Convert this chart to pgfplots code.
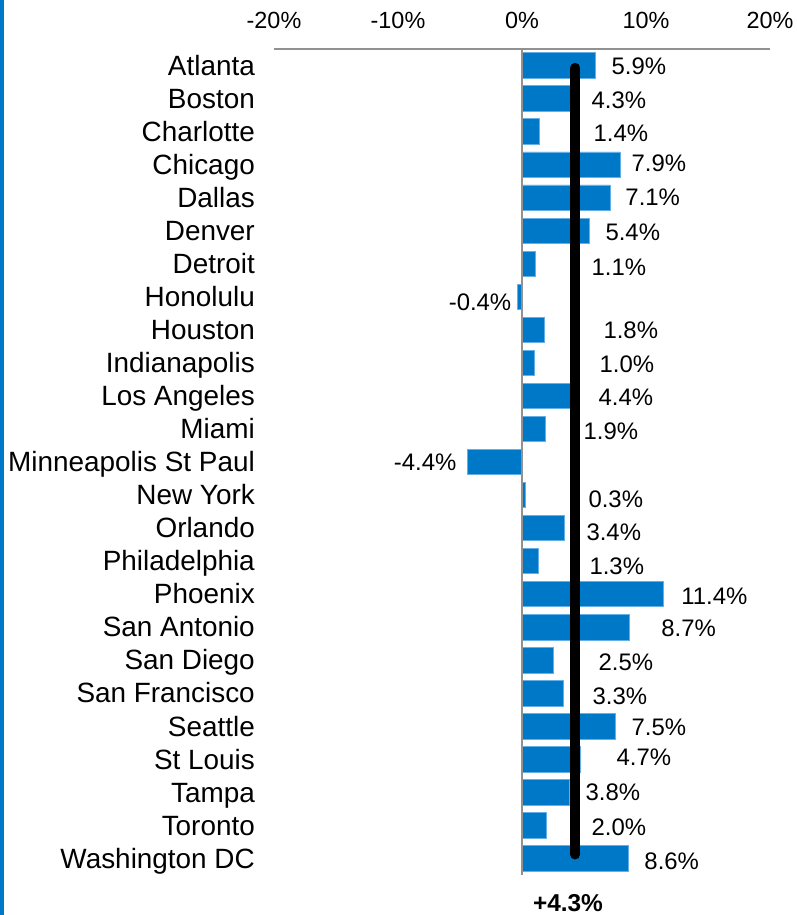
\documentclass[border=0pt]{standalone}
\usepackage{pgfplots}
\pgfplotsset{compat=1.18}
\usepackage{fontspec}
\setmainfont{Liberation Sans}
\definecolor{barblue}{RGB}{0,120,200}
\definecolor{edgeblue}{RGB}{100,175,230}
\definecolor{axgray}{RGB}{145,145,145}
\begin{document}
\begin{tikzpicture}
\path[use as bounding box] (0,0) rectangle (797bp,-915bp);
\fill[barblue] (0,0) rectangle (4bp,-915bp);
\begin{axis}[
  at={(274bp,-49bp)}, anchor=north west,
  scale only axis, width=496bp, height=826bp,
  xmin=-20, xmax=20, ymin=-24.5, ymax=0.5,
  axis line style={draw=none},
  major tick length=0pt,
  xtick={-20,-10,0,10,20},
  xticklabels={-20\%,-10\%,0\%,10\%,20\%},
  xticklabel pos=right,
  xticklabel style={anchor=base, inner sep=0pt, yshift=21bp, font=\fontsize{23.5}{26}\selectfont},
  ytick={0,-1,...,-24},
  yticklabels={Atlanta,Boston,Charlotte,Chicago,Dallas,Denver,Detroit,Honolulu,Houston,Indianapolis,Los Angeles,Miami,Minneapolis St Paul,New York,Orlando,Philadelphia,Phoenix,San Antonio,San Diego,San Francisco,Seattle,St Louis,Tampa,Toronto,Washington DC},
  yticklabel style={anchor=base east, inner sep=0pt, xshift=-19bp, yshift=-9.7bp, font=\fontsize{28}{30}\selectfont},
  clip=false,
]
\addplot[xbar, bar width=0.77, fill=barblue, draw=edgeblue, line width=0.8bp] coordinates {
(5.9,0) (4.3,-1) (1.4,-2) (7.9,-3) (7.1,-4) (5.4,-5) (1.1,-6) (-0.4,-7) (1.8,-8) (1.0,-9)
(4.4,-10) (1.9,-11) (-4.4,-12) (0.3,-13) (3.4,-14) (1.3,-15) (11.4,-16) (8.7,-17) (2.5,-18)
(3.3,-19) (7.5,-20) (4.7,-21) (3.8,-22) (2.0,-23) (8.6,-24)};
\draw[axgray, line width=1.3bp] (axis cs:0,0.5) -- (axis cs:0,-24.5);
\draw[axgray, line width=1.3bp] (axis cs:-20,0.5) -- (axis cs:20,0.5);
\addplot[black, line width=10bp, line cap=round] coordinates {(4.3,-0.07) (4.3,-23.88)};
\addplot[only marks, mark=none, point meta=explicit,
  nodes near coords={\pgfmathprintnumber[fixed,fixed zerofill,precision=1,assume math mode=true]{\pgfplotspointmeta}\%},
  every node near coord/.append style={anchor=base west, inner sep=0pt, yshift=-8.4bp, font=\fontsize{24}{26}\selectfont, text=black}]
  table[x=x, y=y, meta=v] {
x y v
7.21 -0.015 5.9
5.60 -1.04 4.3
5.76 -2.04 1.4
8.82 -2.95 7.9
8.33 -3.97 7.1
6.72 -5.03 5.4
5.60 -6.09 1.1
6.56 -8.0 1.8
6.24 -9.03 1.0
6.16 -10.03 4.4
4.95 -11.05 1.9
5.35 -13.11 0.3
5.19 -14.11 3.4
5.43 -15.14 1.3
12.84 -16.05 11.4
11.23 -17.04 8.7
6.16 -18.07 2.5
5.68 -19.1 3.3
8.82 -20.01 7.5
7.61 -20.92 4.7
5.11 -21.98 3.8
5.60 -23.06 2.0
9.86 -24.09 8.6
};
\addplot[only marks, mark=none, point meta=explicit,
  nodes near coords={\pgfmathprintnumber[fixed,fixed zerofill,precision=1,assume math mode=true]{\pgfplotspointmeta}\%},
  every node near coord/.append style={anchor=base east, inner sep=0pt, yshift=-8.4bp, font=\fontsize{24}{26}\selectfont, text=black}]
  table[x=x, y=y, meta=v] {
x y v
-0.85 -7.15 -0.4
-5.27 -11.99 -4.4
};
\end{axis}
\node[font=\bfseries\fontsize{24.5}{28}\selectfont] at (568bp,-903bp) {+4.3\%};
\end{tikzpicture}
\end{document}
